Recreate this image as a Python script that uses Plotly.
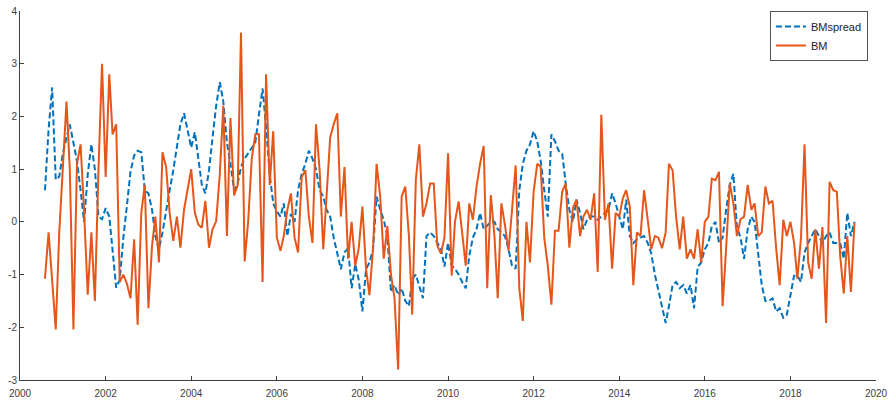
import pandas as pd
import plotly.graph_objects as go

# Monthly observations, Aug 2000 .. Jul 2019
bm_2000 = [-1.08, -0.2, -1.1, -2.04, -0.2]
bm_2001 = [1.0, 2.28, 1.0, -2.04, 1.1, 1.47, 0.2, -1.38, -0.2, -1.5, 1.0, 3.0]
bm_2002 = [0.85, 2.8, 1.66, 1.85, -1.14, -1.0, -1.17, -1.45, -0.33, -1.95, 0.17, 0.7]
bm_2003 = [-1.64, -0.45, 0.1, -0.77, 1.32, 1.04, 0.17, -0.36, 0.1, -0.49, 0.23, 0.6]
bm_2004 = [1.0, 0.17, -0.05, -0.11, 0.4, -0.49, -0.14, 0.01, 0.9, 2.2, -0.27, 1.97]
bm_2005 = [0.5, 0.7, 3.59, -0.75, 0.0, 1.2, 1.66, 1.66, -1.14, 2.8, 0.7, 1.72]
bm_2006 = [-0.3, -0.55, -0.27, 0.23, 0.54, -0.3, -0.58, 0.85, 0.98, 0.1, -0.4, 1.85]
bm_2007 = [0.98, -0.52, 0.6, 1.6, 1.85, 2.06, 0.1, 1.04, -0.7, 0.0, -0.83, -0.5]
bm_2008 = [0.29, -0.89, -1.39, -0.5, 1.1, 0.48, -0.7, -0.08, -1.0, -1.45, -2.8, 0.48]
bm_2009 = [0.67, -0.27, -1.76, 0.8, 1.47, 0.1, 0.35, 0.73, 0.73, -0.45, -0.6, -0.3]
bm_2010 = [1.3, -1.02, 0.0, 0.39, -0.2, -0.83, 0.35, 0.04, 0.67, 1.1, 1.44, -1.26]
bm_2011 = [0.51, -0.27, -1.45, 0.35, -0.05, -0.55, 0.23, 1.07, -1.26, -1.88, 0.0, -0.77]
bm_2012 = [0.57, 1.1, 1.05, -0.3, -0.83, -1.57, -0.17, -0.17, 0.57, 0.73, -0.49, 0.26]
bm_2013 = [0.42, -0.27, 0.1, 0.23, 0.04, 0.54, -0.95, 2.03, 0.04, 0.35, -0.89, 0.17]
bm_2014 = [0.1, 0.45, 0.6, 0.29, -1.2, -0.2, -0.27, 0.6, 0.04, -0.52, -0.27, -0.3]
bm_2015 = [-0.5, -0.2, 1.1, 0.98, 0.1, -0.52, 0.1, -0.7, -0.52, -0.7, -0.14, -0.77]
bm_2016 = [0.0, 0.1, 0.82, 0.79, 0.95, -1.6, -0.5, 0.73, 0.35, -0.27, 0.05, 0.1]
bm_2017 = [0.7, 0.23, 0.35, -0.27, -0.2, 0.67, 0.35, 0.4, -0.5, -1.2, 0.04, -0.27]
bm_2018 = [0.0, -0.4, -1.08, -0.3, 1.47, -0.77, -1.08, -0.14, -0.89, -0.1, -1.92, 0.76]
bm_2019 = [0.6, 0.57, -0.64, -1.36, -0.27, -1.33, -0.02]

sp_2000 = [0.6, 1.75, 2.55, 0.8, 0.86]
sp_2001 = [1.3, 1.6, 1.85, 1.5, 1.16, 0.6, 0.0, 0.9, 1.47, 1.0, 0.1, 0.05]
sp_2002 = [0.26, 0.1, -0.5, -1.25, -1.1, -0.3, 0.3, 0.95, 1.26, 1.35, 1.32, 0.6]
sp_2003 = [0.54, 0.23, -0.27, -0.52, -0.2, 0.23, 0.6, 0.98, 1.47, 1.85, 2.06, 1.72]
sp_2004 = [1.41, 1.7, 1.2, 0.7, 0.54, 0.98, 1.6, 2.2, 2.65, 2.28, 1.5, 1.1]
sp_2005 = [0.6, 0.73, 1.04, 1.2, 1.3, 1.41, 1.5, 2.03, 2.53, 1.8, 0.9, 0.35]
sp_2006 = [0.2, 0.1, 0.35, -0.27, 0.15, 0.0, 0.6, 0.91, 1.1, 1.35, 1.2, 1.0]
sp_2007 = [0.6, 0.48, 0.23, 0.1, -0.3, -0.6, -0.9, -0.58, -0.5, -1.26, -0.8, -1.1]
sp_2008 = [-1.7, -0.9, -0.77, -0.52, 0.48, 0.23, 0.04, -0.27, -1.33, -1.2, -1.39, -1.26]
sp_2009 = [-1.5, -1.6, -1.08, -1.0, -1.2, -1.45, -0.27, -0.2, -0.27, -0.4, -0.5, -0.85]
sp_2010 = [-0.4, -0.83, -0.89, -1.0, -1.14, -1.26, -0.64, -0.3, -0.14, 0.17, -0.14, -0.08]
sp_2011 = [0.0, 0.0, -0.14, -0.2, -0.27, -0.52, -0.83, -0.89, 0.6, 1.1, 1.35, 1.47]
sp_2012 = [1.72, 1.53, 1.16, 0.6, 0.1, 1.66, 1.53, 1.35, 1.29, 0.73, 0.23, 0.0]
sp_2013 = [0.42, 0.17, -0.14, 0.04, 0.1, 0.1, 0.04, 0.1, 0.17, 0.23, 0.54, 0.35]
sp_2014 = [0.1, -0.14, 0.42, -0.27, -0.4, -0.33, -0.3, -0.27, -0.4, -0.6, -1.0, -1.3]
sp_2015 = [-1.55, -1.92, -1.6, -1.2, -1.14, -1.26, -1.2, -1.36, -1.2, -1.64, -0.86, -0.77]
sp_2016 = [-0.52, -0.4, -0.08, 0.0, -0.4, -0.3, 0.23, 0.7, 0.91, -0.1, -0.3, -0.7]
sp_2017 = [-0.14, 0.1, 0.0, -0.64, -1.2, -1.5, -1.5, -1.45, -1.7, -1.64, -1.82, -1.76]
sp_2018 = [-1.39, -1.02, -1.02, -1.14, -0.58, -0.4, -0.27, -0.14, -0.27, -0.4, -0.27, -0.2]
sp_2019 = [-0.4, -0.4, -0.4, -0.7, 0.17, -0.27, 0.0]

tick_years = [2000, 2002, 2004, 2006, 2008, 2010, 2012, 2014, 2016, 2018, 2020]
y_ticks = [-3, -2, -1, 0, 1, 2, 3, 4]

bm = (bm_2000 + bm_2001 + bm_2002 + bm_2003 + bm_2004 + bm_2005 + bm_2006 + bm_2007
      + bm_2008 + bm_2009 + bm_2010 + bm_2011 + bm_2012 + bm_2013 + bm_2014 + bm_2015
      + bm_2016 + bm_2017 + bm_2018 + bm_2019)
spread = (sp_2000 + sp_2001 + sp_2002 + sp_2003 + sp_2004 + sp_2005 + sp_2006 + sp_2007
          + sp_2008 + sp_2009 + sp_2010 + sp_2011 + sp_2012 + sp_2013 + sp_2014 + sp_2015
          + sp_2016 + sp_2017 + sp_2018 + sp_2019)

dates = pd.date_range("2000-08-01", periods=len(bm), freq="MS")

fig = go.Figure()
fig.add_trace(go.Scatter(x=dates, y=spread, mode="lines", name="BMspread",
                         line=dict(color="#0072BD", width=2, dash="6px,3px")))
fig.add_trace(go.Scatter(x=dates, y=bm, mode="lines", name="BM",
                         line=dict(color="#E5561B", width=2)))

axis_font = dict(family="Liberation Sans, Arial, sans-serif", size=10, color="#404040")
fig.update_layout(
    width=895, height=404,
    margin=dict(l=20, r=19, t=5, b=24),
    paper_bgcolor="white", plot_bgcolor="white",
    font=axis_font,
    showlegend=True,
    legend=dict(x=0.9906, y=1.0, xanchor="right", yanchor="top",
                bgcolor="white", bordercolor="#555555", borderwidth=1,
                font=dict(family="Liberation Sans, Arial, sans-serif", size=11, color="#222222"),
                itemwidth=30, tracegroupgap=0),
    xaxis=dict(type="date", range=["2000-01-01", "2020-01-01"],
               tickvals=[f"{y}-01-01" for y in tick_years],
               ticktext=[str(y) for y in tick_years],
               ticks="inside", ticklen=4, tickcolor="#404040",
               ticklabelstandoff=4, ticklabeloverflow="allow",
               showline=True, linecolor="#404040", linewidth=1,
               showgrid=False, zeroline=False, mirror=False),
    yaxis=dict(range=[-3, 4], tickvals=y_ticks, ticktext=[str(v) for v in y_ticks],
               ticks="inside", ticklen=4, tickcolor="#404040",
               ticklabeloverflow="allow",
               showline=True, linecolor="#404040", linewidth=1,
               showgrid=False, zeroline=False, mirror=False),
)

fig.write_html("out.html",
               config={"displayModeBar": False},
               post_script="document.body.style.margin='0';document.body.style.overflow='hidden';")
